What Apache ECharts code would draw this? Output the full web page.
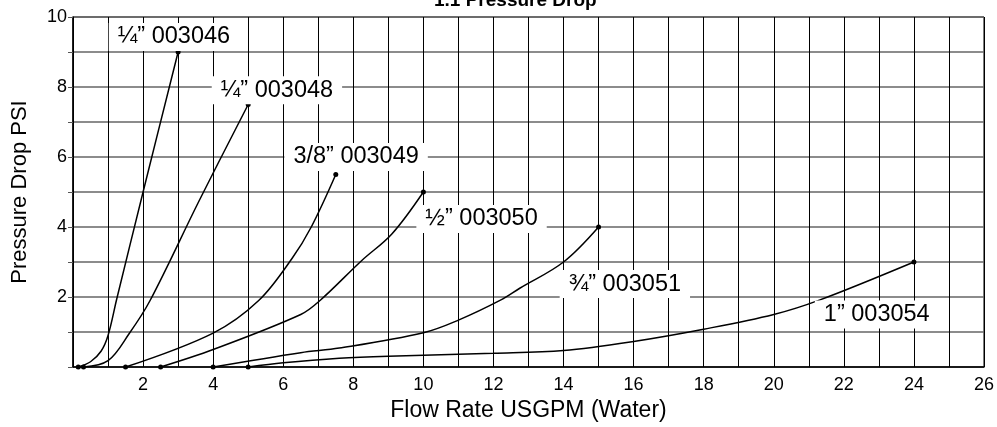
<!DOCTYPE html>
<html>
<head>
<meta charset="utf-8">
<script src="https://cdn.jsdelivr.net/npm/echarts@6/dist/echarts.min.js"></script>
<style>
  html, body { margin: 0; padding: 0; background: #fff; }
  #chart { width: 997px; height: 427px; }
</style>
</head>
<body>
<div id="chart"></div>
<script>
// curves: [flow USGPM, pressure drop PSI]
var pipe003046 = [[0.15, 0], [0.5, 0.15], [0.8, 0.45], [1.0, 0.9], [1.25, 1.95], [2.0, 5.0], [3.0, 9.0]];
var pipe003048 = [[0.3, 0], [1.0, 0.18], [1.6, 0.95], [2.2, 1.9], [3.6, 4.75], [5.0, 7.5]];
var pipe003049 = [[1.5, 0], [4.0, 0.97], [5.3, 1.9], [6.25, 3.1], [6.8, 4.0], [7.5, 5.5]];
var pipe003050 = [[2.5, 0], [4.0, 0.5], [6.5, 1.5], [7.05, 1.9], [8.25, 3.05], [9.1, 3.8], [10.0, 5.0]];
var pipe003051 = [[4.0, 0], [6.5, 0.41], [7.6, 0.54], [10.0, 0.98], [11.0, 1.34], [12.2, 1.91], [12.75, 2.25], [14.0, 3.0], [15.0, 4.0]];
var pipe003054 = [[5.0, 0], [6.0, 0.12], [7.6, 0.25], [9.0, 0.31], [12.0, 0.39], [14.0, 0.47], [16.0, 0.73], [18.0, 1.08], [20.0, 1.5], [21.3, 1.91], [24.0, 3.0]];

var seriesNames = ['¼” 003046', '¼” 003048', '3/8” 003049', '½” 003050', '¾” 003051', '1” 003054'];
var seriesData = [pipe003046, pipe003048, pipe003049, pipe003050, pipe003051, pipe003054];
// where each name tag sits
var labelAt = [[2.88, 9.43], [5.82, 7.91], [8.08, 6.0], [11.66, 4.23], [15.75, 2.37], [22.94, 1.5]];

var xTicks = [2, 4, 6, 8, 10, 12, 14, 16, 18, 20, 22, 24, 26];
var yTicks = [2, 4, 6, 8, 10];

var font = 'Liberation Sans, Arial, sans-serif';

var series = seriesData.map(function (d, i) {
  return {
    name: seriesNames[i],
    type: 'line',
    data: d,
    smooth: 0.35,
    symbol: 'circle',
    symbolSize: function (v, p) {
      return (p.dataIndex === 0 || p.dataIndex === d.length - 1) ? 5 : 0;
    },
    showAllSymbol: true,
    itemStyle: { color: '#000' },
    lineStyle: { color: '#000', width: 1.5 },
    silent: true,
    markPoint: {
      symbol: 'rect',
      symbolSize: 0,
      data: [{ coord: labelAt[i] }],
      label: {
        show: true,
        position: 'inside',
        formatter: seriesNames[i],
        fontFamily: font,
        fontSize: 23.5,
        color: '#000',
        backgroundColor: '#fff',
        padding: [2, 9, 2, 9]
      }
    }
  };
});

var myChart = echarts.init(document.getElementById('chart'));
var option = {
  animation: false,
  title: {
    text: '1.1 Pressure Drop',
    left: 429,
    top: -14,
    textStyle: { fontFamily: font, fontSize: 19, fontWeight: 'bold', color: '#000' }
  },
  grid: {
    left: 73,
    right: 11,
    top: 17,
    bottom: 60,
    show: true,
    borderColor: '#000',
    borderWidth: 1
  },
  xAxis: {
    type: 'value',
    min: 0,
    max: 26,
    interval: 1,
    name: 'Flow Rate USGPM (Water)',
    nameLocation: 'middle',
    nameGap: 32,
    nameTextStyle: { fontFamily: font, fontSize: 23, color: '#000' },
    axisLine: { lineStyle: { color: '#000', width: 1.5 } },
    axisTick: { show: false },
    axisLabel: {
      fontFamily: font,
      fontSize: 18,
      color: '#000',
      margin: 9,
      formatter: function (v) { return xTicks.indexOf(v) >= 0 ? String(v) : ''; }
    },
    splitLine: { show: true, lineStyle: { color: '#000', width: 1 } }
  },
  yAxis: {
    type: 'value',
    min: 0,
    max: 10,
    interval: 1,
    name: 'Pressure Drop PSI',
    nameLocation: 'middle',
    nameGap: 42,
    nameTextStyle: { fontFamily: font, fontSize: 22, color: '#000' },
    axisLine: { show: true, lineStyle: { color: '#000', width: 1.5 } },
    axisTick: { show: true, length: 5, lineStyle: { color: '#555' } },
    axisLabel: {
      fontFamily: font,
      fontSize: 18,
      color: '#000',
      margin: 6,
      formatter: function (v) { return yTicks.indexOf(v) >= 0 ? String(v) : ''; }
    },
    splitLine: { show: true, lineStyle: { color: '#666', width: 1.5 } }
  },
  series: series
};
myChart.setOption(option);
</script>
</body>
</html>
